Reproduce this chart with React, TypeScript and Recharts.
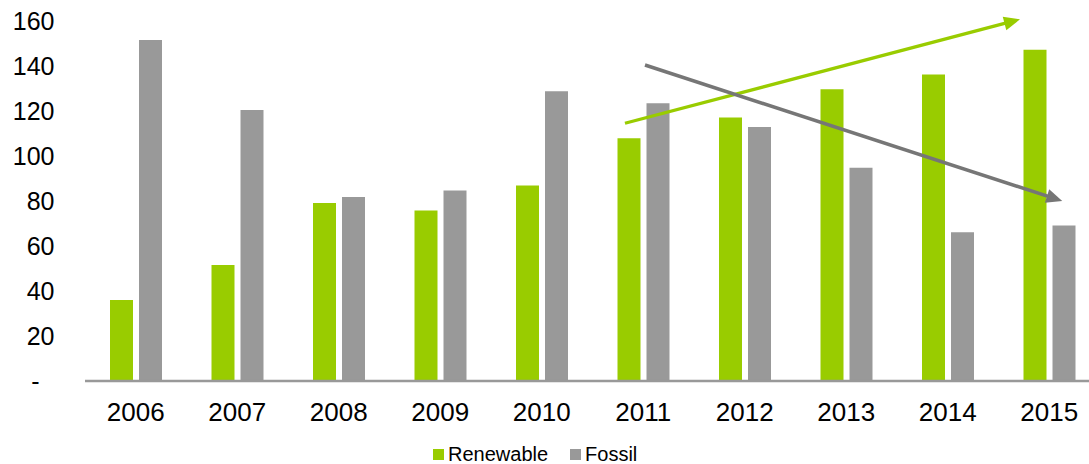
import React from "react";
import { BarChart, Bar, XAxis, YAxis, ReferenceLine, Legend } from "recharts";

const years = ["2006", "2007", "2008", "2009", "2010", "2011", "2012", "2013", "2014", "2015"];
const renewable = [36, 51.5, 79, 75.7, 86.8, 107.7, 117, 129.5, 136, 147];
const fossil = [151.4, 120.3, 81.7, 84.6, 128.6, 123.3, 112.7, 94.7, 66, 69];
const yTicks = [0, 20, 40, 60, 80, 100, 120, 140, 160];
const seriesNames = ["Renewable", "Fossil"];
const seriesColors = ["#99CC00", "#999999"];

// trend arrows: anchored to a category plus a fractional offset (in category widths), y in data units
const trendArrows = [
  { fromYear: "2011", fromOffset: -0.18, fromValue: 114.4, toYear: "2015", toOffset: -0.288, toValue: 160.5, color: "#99CC00", width: 3.3 },
  { fromYear: "2011", fromOffset: 0.017, fromValue: 140.25, toYear: "2015", toOffset: 0.128, toValue: 79.9, color: "#767676", width: 3.5 },
];

const data = years.map((year, i) => ({ year, Renewable: renewable[i], Fossil: fossil[i] }));

const FONT = '"Liberation Sans", Arial, sans-serif';

const YTick = (props: any) => {
  const { x, y, payload } = props;
  const isZero = payload.value === 0;
  return (
    <text
      x={x}
      y={y}
      dx={isZero ? -15 : 0}
      dy="0.36em"
      textAnchor="end"
      fontSize={25}
      fontFamily={FONT}
      fill="#000"
    >
      {isZero ? "-" : payload.value}
    </text>
  );
};

const makeArrowShape = (arrow: any) => (props: any) => {
  const { x1: cx1, y1, x2: cx2, y2 } = props;
  if ([cx1, y1, cx2, y2].some((v) => v === undefined || isNaN(v))) return <g />;
  const steps = years.indexOf(arrow.toYear) - years.indexOf(arrow.fromYear);
  const band = steps !== 0 ? (cx2 - cx1) / steps : 0;
  const x1 = cx1 + arrow.fromOffset * band;
  const x2 = cx2 + arrow.toOffset * band;
  const dx = x2 - x1;
  const dy = y2 - y1;
  const len = Math.sqrt(dx * dx + dy * dy);
  const ux = dx / len;
  const uy = dy / len;
  const headLen = 16;
  const headHalf = 7;
  const bx = x2 - ux * headLen;
  const by = y2 - uy * headLen;
  const px = -uy;
  const py = ux;
  return (
    <g>
      <line x1={x1} y1={y1} x2={bx + ux * 2} y2={by + uy * 2} stroke={arrow.color} strokeWidth={arrow.width} />
      <polygon
        points={`${x2},${y2} ${bx + px * headHalf},${by + py * headHalf} ${bx - px * headHalf},${by - py * headHalf}`}
        fill={arrow.color}
      />
    </g>
  );
};

const LegendContent = () => (
  <div
    style={{
      display: "flex",
      justifyContent: "flex-start",
      alignItems: "center",
      height: 20,
      paddingLeft: 433,
      fontFamily: FONT,
      fontSize: 20,
      color: "#000",
      lineHeight: "20px",
    }}
  >
    {seriesNames.map((name, i) => (
      <div key={name} style={{ display: "flex", alignItems: "center", marginRight: i === 0 ? 22 : 0 }}>
        <span style={{ display: "inline-block", width: 11, height: 11, background: seriesColors[i], marginRight: 4 }} />
        <span>{name}</span>
      </div>
    ))}
  </div>
);

export default function App() {
  return (
    <div style={{ position: "absolute", left: 0, top: 0, width: 1089, height: 464, overflow: "hidden", background: "#fff" }}>
      <BarChart
        width={1100}
        height={464}
        data={data}
        margin={{ top: 20.5, right: 0, bottom: 0, left: 0 }}
        barSize={23}
        barGap={6}
      >
        <XAxis
          dataKey="year"
          height={63}
          tickLine={false}
          tickSize={6}
          tickMargin={16}
          axisLine={{ stroke: "#999999", strokeWidth: 2.7 }}
          tick={{ fontSize: 26, fontFamily: FONT, fill: "#000" }}
          interval={0}
        />
        <YAxis
          width={85}
          domain={[0, 160]}
          ticks={yTicks}
          axisLine={false}
          tickLine={false}
          tickSize={6}
          tickMargin={24.5}
          tick={<YTick />}
          interval={0}
        />
        <Bar dataKey="Renewable" fill={seriesColors[0]} isAnimationActive={false} />
        <Bar dataKey="Fossil" fill={seriesColors[1]} isAnimationActive={false} />
        {trendArrows.map((a, i) => (
          <ReferenceLine
            key={i}
            segment={[
              { x: a.fromYear, y: a.fromValue },
              { x: a.toYear, y: a.toValue },
            ]}
            ifOverflow="visible"
            shape={makeArrowShape(a)}
          />
        ))}
        <Legend verticalAlign="bottom" align="left" content={<LegendContent />} wrapperStyle={{ height: 20 }} />
      </BarChart>
    </div>
  );
}
